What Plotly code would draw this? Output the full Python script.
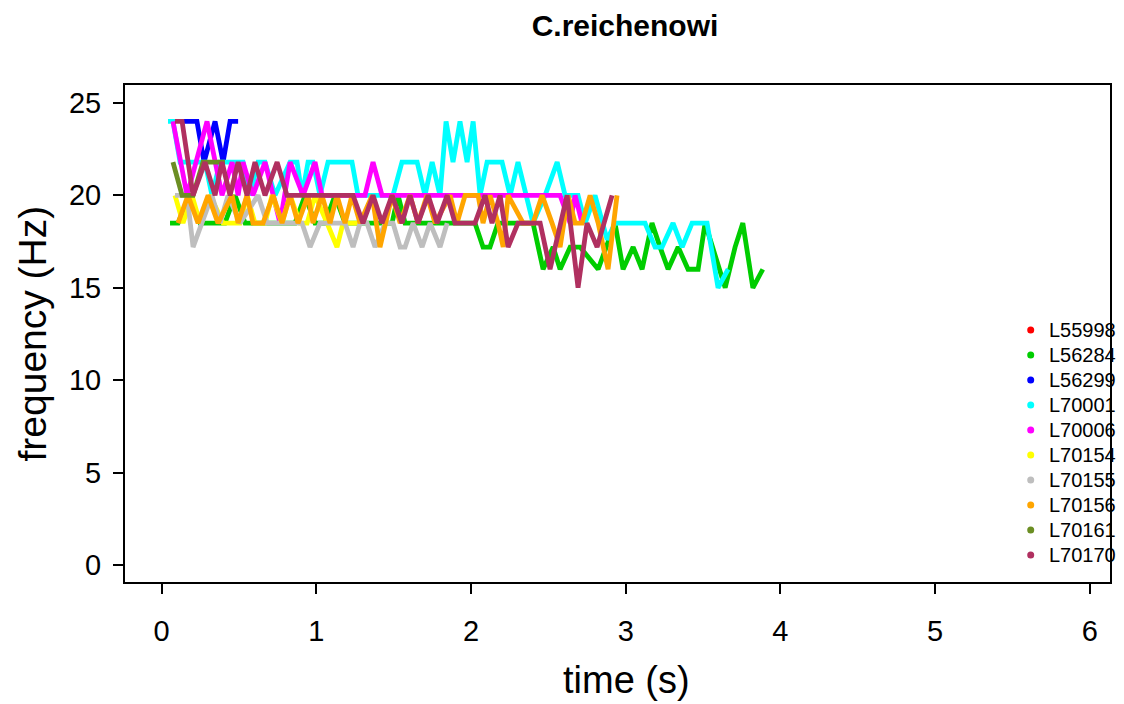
import plotly.graph_objects as go

# ---- data: time (s) and dominant frequency (Hz) per individual ----
ids = ["L55998", "L56284", "L56299", "L70001", "L70006",
       "L70154", "L70155", "L70156", "L70161", "L70170"]
colors = ["#FF0000", "#00CD00", "#0000FF", "#00FFFF", "#FF00FF",
          "#FFFF00", "#BEBEBE", "#FFA500", "#6B8E23", "#B03060"]

t_L55998 = []
f_L55998 = []

t_L56284 = [0.055, 0.107, 0.184, 0.249, 0.410, 0.475, 0.540, 0.863, 0.928, 0.992,
            1.057, 1.121, 1.186, 1.490, 1.529, 1.574, 2.026, 2.078, 2.123, 2.175,
            2.401, 2.466, 2.531, 2.576, 2.641, 2.705, 2.822, 2.931, 2.983, 3.048,
            3.106, 3.170, 3.222, 3.274, 3.339, 3.403, 3.468, 3.513, 3.643, 3.707,
            3.757, 3.822, 3.886]
f_L56284 = [18.5, 18.5, 20, 18.5, 18.5, 20, 18.5, 18.5, 20, 18.5,
            18.5, 20, 18.5, 18.5, 20, 18.5, 18.5, 17.2, 17.2, 18.5,
            18.5, 16, 17.2, 16, 17.2, 17.2, 16, 18.5, 16, 17.2,
            16, 18.5, 17.2, 16, 17.2, 16, 16, 18.5, 15, 17.2,
            18.5, 15, 16]

t_L56299 = [0.139, 0.229, 0.275, 0.346, 0.398, 0.443, 0.495]
f_L56299 = [24, 24, 21.8, 24, 21.8, 24, 24]

t_L70001 = [0.042, 0.074, 0.120, 0.281, 0.326, 0.378, 0.527, 0.572, 0.624, 0.669,
            0.734, 0.831, 0.876, 0.908, 0.947, 0.979, 1.024, 1.076, 1.231, 1.270,
            1.496, 1.554, 1.652, 1.703, 1.749, 1.800, 1.839, 1.884, 1.929, 1.975,
            2.014, 2.059, 2.104, 2.201, 2.253, 2.304, 2.401, 2.479, 2.557, 2.608,
            2.692, 2.738, 2.802, 2.880, 2.931, 3.125, 3.190, 3.235, 3.306, 3.365,
            3.429, 3.526, 3.597, 3.662]
f_L70001 = [24, 24, 21.8, 21.8, 20, 21.8, 21.8, 20, 21.8, 21.8,
            20, 21.8, 21.8, 20, 21.8, 21.8, 20, 21.8, 21.8, 20,
            20, 21.8, 21.8, 20, 21.8, 20, 24, 21.8, 24, 21.8,
            24, 20, 21.8, 21.8, 20, 21.8, 18.5, 20, 21.8, 20,
            20, 18.5, 20, 17.6, 18.5, 18.5, 17.2, 17.2, 18.5, 17.2,
            18.5, 18.5, 15, 16]

t_L70006 = [0.074, 0.165, 0.294, 0.391, 0.456, 0.495, 0.527, 0.591, 0.669, 0.766,
            0.831, 0.915, 0.992, 1.037, 1.315, 1.367, 1.425, 2.576, 2.641, 2.673,
            2.718]
f_L70006 = [24, 20, 24, 20, 21.8, 20, 21.8, 20, 21.8, 18.5,
            21.8, 20, 21.8, 20, 20, 21.8, 20, 20, 18.5, 20,
            18.5]

t_L70154 = [0.087, 0.139, 0.197, 0.249, 0.314, 0.398, 0.507, 0.553, 0.604, 0.669,
            0.714, 0.779, 0.831, 0.895, 0.941, 0.992, 1.070, 1.134, 1.173, 1.283]
f_L70154 = [20, 18.5, 20, 18.5, 20, 18.5, 18.5, 20, 18.5, 18.5,
            20, 18.5, 20, 18.5, 18.5, 20, 18.5, 17.2, 18.5, 18.5]

t_L70155 = [0.087, 0.165, 0.204, 0.262, 0.326, 0.378, 0.430, 0.507, 0.624, 0.682,
            0.908, 0.960, 1.024, 1.186, 1.238, 1.283, 1.328, 1.380, 1.445, 1.496,
            1.542, 1.574, 1.626, 1.684, 1.736, 1.800, 1.846]
f_L70155 = [20, 20, 17.2, 18.5, 20, 18.5, 20, 18.5, 20, 18.5,
            18.5, 17.2, 18.5, 18.5, 17.2, 18.5, 18.5, 17.2, 18.5, 18.5,
            17.2, 17.2, 18.5, 17.2, 18.5, 17.2, 18.5]

t_L70156 = [0.107, 0.171, 0.236, 0.301, 0.365, 0.456, 0.495, 0.553, 0.591, 0.656,
            0.721, 0.779, 0.831, 0.882, 0.947, 0.979, 1.037, 1.089, 1.134, 1.186,
            1.231, 1.283, 1.361, 1.412, 1.490, 1.542, 1.606, 1.658, 1.716, 1.768,
            1.865, 1.910, 1.962, 2.046, 2.078, 2.123, 2.175, 2.208, 2.240, 2.337,
            2.401, 2.460, 2.524, 2.576, 2.628, 2.673, 2.718, 2.770, 2.822, 2.886,
            2.944]
f_L70156 = [18.5, 20, 18.5, 20, 18.5, 20, 18.5, 20, 18.5, 18.5,
            20, 18.5, 20, 18.5, 20, 18.5, 20, 18.5, 20, 18.5,
            20, 18.5, 20, 17.2, 20, 18.5, 20, 18.5, 20, 18.5,
            20, 18.5, 20, 20, 18.5, 20, 18.5, 17.2, 20, 18.5,
            18.5, 20, 18.5, 17.2, 20, 18.5, 18.5, 20, 18.5, 16,
            20]

t_L70161 = [0.074, 0.133, 0.204, 0.268, 0.410]
f_L70161 = [21.8, 20, 20, 21.8, 21.8]

t_L70170 = [0.087, 0.133, 0.204, 0.281, 0.346, 0.391, 0.443, 0.495, 0.553, 0.604,
            0.669, 0.747, 0.811, 1.238, 1.302, 1.367, 1.425, 1.490, 1.554, 1.606,
            1.658, 1.723, 1.781, 1.846, 1.897, 2.026, 2.091, 2.136, 2.188, 2.240,
            2.304, 2.447, 2.511, 2.621, 2.692, 2.750, 2.815, 2.912]
f_L70170 = [24, 24, 20, 21.8, 20, 21.8, 20, 21.8, 20, 21.8,
            20, 21.8, 20, 20, 18.5, 20, 18.5, 20, 18.5, 20,
            18.5, 20, 18.5, 20, 18.5, 18.5, 20, 18.5, 20, 17.2,
            18.5, 18.5, 16, 20, 15, 18.5, 17.2, 20]

times = [t_L55998, t_L56284, t_L56299, t_L70001, t_L70006,
         t_L70154, t_L70155, t_L70156, t_L70161, t_L70170]
freqs = [f_L55998, f_L56284, f_L56299, f_L70001, f_L70006,
         f_L70154, f_L70155, f_L70156, f_L70161, f_L70170]

x_ticks = [0, 1, 2, 3, 4, 5, 6]
y_ticks = [0, 5, 10, 15, 20, 25]

FONT = "Liberation Sans, Arial, Helvetica, sans-serif"
W, H = 1124, 704

fig = go.Figure()
for name, col, t, f in zip(ids, colors, times, freqs):
    fig.add_trace(go.Scatter(
        x=t, y=f, mode="lines", name=name,
        line=dict(color=col, width=4.8),
        showlegend=False,
    ))

# key in the lower right of the panel: coloured dot + id
shapes = []
annotations = []
key_top_px, key_step_px = 330, 25
plot_top, plot_bottom = 85, 582
for i, (name, col) in enumerate(zip(ids, colors)):
    yp = (plot_bottom - (key_top_px + key_step_px * i)) / (plot_bottom - plot_top)
    shapes.append(dict(
        type="circle", xref="paper", yref="paper",
        xsizemode="pixel", ysizemode="pixel",
        xanchor=0.9195, yanchor=yp,
        x0=-3.5, x1=3.5, y0=-3.5, y1=3.5,
        fillcolor=col, line=dict(color=col, width=0),
    ))
    annotations.append(dict(
        text=name, xref="paper", yref="paper",
        x=0.9365, y=yp, xanchor="left", yanchor="middle",
        showarrow=False, font=dict(family=FONT, size=20, color="black"),
    ))

# axis titles placed in page coordinates
annotations.append(dict(
    text="time (s)", xref="paper", yref="paper",
    x=(626 - 125) / 985, y=(plot_bottom - 680) / (plot_bottom - plot_top),
    xanchor="center", yanchor="middle", showarrow=False,
    font=dict(family=FONT, size=38, color="black"),
))
annotations.append(dict(
    text="frequency (Hz)", xref="paper", yref="paper",
    x=(32 - 125) / 985, y=0.5, textangle=-90,
    xanchor="center", yanchor="middle", showarrow=False,
    font=dict(family=FONT, size=39, color="black"),
))

fig.update_layout(
    width=W, height=H,
    margin=dict(l=125, r=14, t=85, b=122),
    paper_bgcolor="white", plot_bgcolor="white",
    font=dict(family=FONT, color="black"),
    title=dict(
        text="<b>C.reichenowi</b>", x=625 / W, xref="container", xanchor="center",
        y=1 - 25 / H, yref="container", yanchor="middle",
        font=dict(family=FONT, size=30, color="black"),
    ),
    shapes=shapes,
    annotations=annotations,
    showlegend=False,
)

fig.update_xaxes(
    range=[-0.236, 6.13], tickvals=x_ticks, ticktext=[str(v) for v in x_ticks],
    showgrid=False, zeroline=False,
    showline=True, mirror=True, linecolor="black", linewidth=2,
    ticks="outside", ticklen=10, tickwidth=1.5, tickcolor="black",
    tickfont=dict(family=FONT, size=29), ticklabelstandoff=12,
)
fig.update_yaxes(
    range=[-0.92, 25.97], tickvals=y_ticks, ticktext=[str(v) for v in y_ticks],
    showgrid=False, zeroline=False,
    showline=True, mirror=True, linecolor="black", linewidth=2,
    ticks="outside", ticklen=10, tickwidth=1.5, tickcolor="black",
    tickfont=dict(family=FONT, size=29), ticklabelstandoff=6,
)

fig.write_html("out.html")
